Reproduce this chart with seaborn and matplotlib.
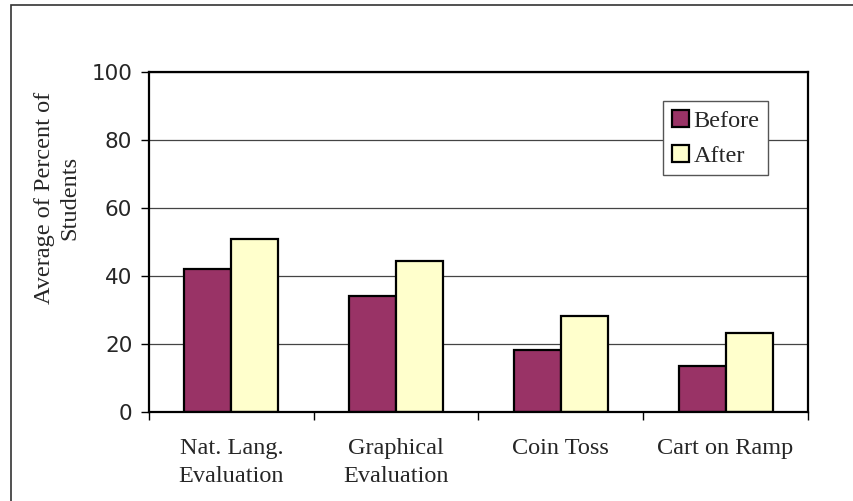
import matplotlib
matplotlib.use("Agg")
import matplotlib.pyplot as plt
import seaborn as sns
import pandas as pd
from matplotlib.patches import Rectangle

# data
categories = ["Nat. Lang.\nEvaluation", "Graphical\nEvaluation", "Coin Toss", "Cart on Ramp"]
before = [42.0, 34.0, 18.3, 13.5]
after = [51.0, 44.5, 28.2, 23.2]
series = ["Before", "After"]
colors = ["#993366", "#FFFFCC"]

df = pd.DataFrame({
    "Task": categories * 2,
    "When": ["Before"] * len(categories) + ["After"] * len(categories),
    "Percent": before + after,
})

sns.set_theme(style="white")
serif = "Liberation Serif"

fig = plt.figure(figsize=(8.54, 5.01), dpi=100)
ax = fig.add_axes([149 / 854, 1 - 412 / 501, (808 - 149) / 854, (412 - 72) / 501])

sns.barplot(data=df, x="Task", y="Percent", hue="When", hue_order=series,
            palette=colors, width=0.571, edgecolor="black", linewidth=1.6,
            saturation=1, ax=ax, legend=True)

ax.set_ylim(0, 100)
ax.set_xlim(-0.5, 3.5)
ax.set_yticks([0, 20, 40, 60, 80, 100])
ax.yaxis.grid(True, color="#444444", linewidth=0.9)
ax.set_axisbelow(True)
for s in ax.spines.values():
    s.set_visible(True)
    s.set_color("black")
    s.set_linewidth(1.6)

ax.tick_params(axis="y", left=True, direction="out", length=6, width=1.0,
               color="black", pad=6, labelsize=15.5)
for lab in ax.get_yticklabels():
    lab.set_fontfamily("DejaVu Sans")

# category labels at centres, tick marks at the category borders
ax.set_xticks(range(len(categories)))
ax.set_xticklabels(categories, fontfamily=serif, fontsize=17.5, linespacing=1.4)
ax.tick_params(axis="x", which="major", length=0, pad=19)
ax.set_xticks([-0.5, 0.5, 1.5, 2.5, 3.5], minor=True)
ax.tick_params(axis="x", which="minor", bottom=True, direction="out", length=6,
               width=1.0, color="black")
for lab in ax.get_xticklabels():
    lab.set_verticalalignment("top")

ax.set_xlabel("")
ax.set_ylabel("")
fig.text(57 / 854, 1 - 198 / 501, "Average of Percent of\nStudents", rotation=90,
         ha="center", va="center", multialignment="center",
         fontfamily=serif, fontsize=17.5, linespacing=1.3)

leg = ax.legend(loc="upper left", bbox_to_anchor=((663 - 149) / 659, 1 - (101 - 72) / 340),
                prop={"family": serif, "size": 17.5}, frameon=True, fancybox=False,
                handlelength=0.7, handleheight=0.7, handletextpad=0.2,
                borderpad=0.35, labelspacing=0.55, borderaxespad=0)
leg.get_frame().set_edgecolor("#555555")
leg.get_frame().set_linewidth(1.0)
leg.get_frame().set_facecolor("white")
leg.get_frame().set_alpha(1)

# outer chart border (runs off the right and bottom of the picture)
fig.patches.append(Rectangle((11 / 854, -0.05), 1.0, 1 - 5 / 501 + 0.05,
                             transform=fig.transFigure, fill=False,
                             edgecolor="#333333", linewidth=1.2))

fig.savefig("out.png", dpi=100)
